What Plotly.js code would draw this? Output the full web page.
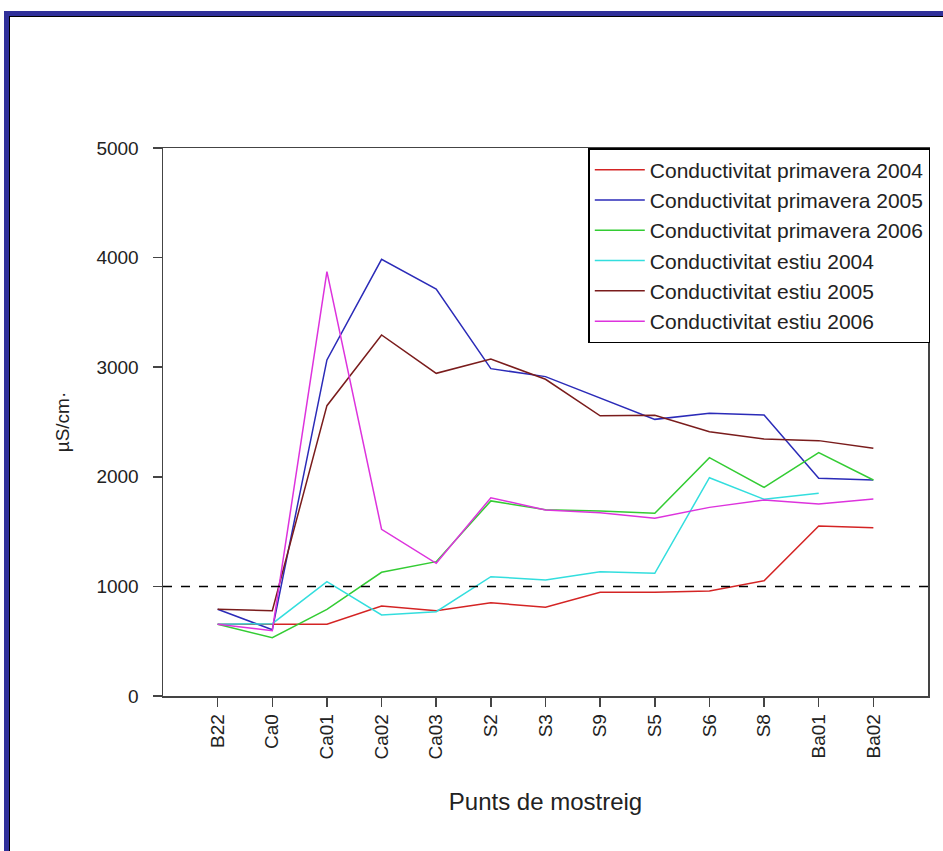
<!DOCTYPE html>
<html>
<head>
<meta charset="utf-8">
<script src="https://cdn.plot.ly/plotly-3.0.1.min.js"></script>
<style>
  html, body { margin: 0; padding: 0; background: #ffffff; }
  #frame { position: absolute; left: 4px; top: 11px; width: 1000px; height: 900px;
           border-left: 5px solid #30309a; border-top: 5px solid #30309a; }
  #inner { position: absolute; left: 0; top: 0; width: 100%; height: 100%;
           border-left: 1px solid #000; border-top: 1px solid #000; }
  #chart { position: absolute; left: 0; top: 0; width: 943px; height: 851px; }
</style>
</head>
<body>
<div id="frame"><div id="inner"></div></div>
<div id="chart"></div>
<script>
const categories = ["B22", "Ca0", "Ca01", "Ca02", "Ca03", "S2", "S3", "S9", "S5", "S6", "S8", "Ba01", "Ba02"];

const primavera2004 = [654, 654, 654, 821, 778, 851, 809, 946, 946, 958, 1052, 1551, 1536];
const primavera2005 = [791, 605, 3066, 3984, 3713, 2987, 2914, 2716, 2524, 2579, 2564, 1986, 1971];
const primavera2006 = [654, 532, 791, 1129, 1226, 1780, 1700, 1688, 1667, 2175, 1904, 2220, 1971];
const estiu2004     = [654, 660, 1043, 739, 769, 1089, 1058, 1134, 1119, 1992, 1795, 1849, null];
const estiu2005     = [791, 778, 2649, 3294, 2944, 3075, 2890, 2556, 2562, 2412, 2345, 2330, 2260];
const estiu2006     = [654, 596, 3872, 1521, 1211, 1809, 1697, 1673, 1621, 1721, 1788, 1752, 1797];

const seriesNames = [
  "Conductivitat primavera 2004",
  "Conductivitat primavera 2005",
  "Conductivitat primavera 2006",
  "Conductivitat estiu 2004",
  "Conductivitat estiu 2005",
  "Conductivitat estiu 2006"
];
const seriesValues = [primavera2004, primavera2005, primavera2006, estiu2004, estiu2005, estiu2006];
const seriesColors = ["#d42424", "#2b2bb8", "#33cc33", "#33dede", "#7a1c1c", "#dd33dd"];

const referenceLevel = [1000];
const yTicks = [0, 1000, 2000, 3000, 4000, 5000];

const traces = seriesValues.map((vals, i) => ({
  type: "scatter",
  mode: "lines",
  x: categories,
  y: vals,
  name: seriesNames[i],
  line: { color: seriesColors[i], width: 1.5 },
  connectgaps: false
}));

const font = "'Liberation Sans', Arial, sans-serif";

const layout = {
  width: 943,
  height: 851,
  paper_bgcolor: "rgba(0,0,0,0)",
  plot_bgcolor: "#ffffff",
  margin: { l: 163, r: 15, t: 148, b: 155 },
  showlegend: true,
  font: { family: font, color: "#222222", size: 18 },
  xaxis: {
    type: "category",
    categoryorder: "array",
    categoryarray: categories,
    range: [-1, 13],
    tickangle: -90,
    ticks: "outside",
    ticklen: 9,
    tickwidth: 1.5,
    tickcolor: "#444444",
    showline: true,
    linecolor: "#444444",
    linewidth: 1.5,
    mirror: true,
    showgrid: false,
    zeroline: false,
    tickfont: { family: font, size: 19, color: "#222222" },
    title: { text: "Punts de mostreig", font: { family: font, size: 24, color: "#222222" }, standoff: 34 }
  },
  yaxis: {
    range: [0, 5000],
    tickvals: yTicks,
    ticks: "outside",
    ticklen: 9,
    tickwidth: 1.5,
    tickcolor: "#444444",
    ticklabelstandoff: 10,
    showline: true,
    linecolor: "#444444",
    linewidth: 1.5,
    mirror: true,
    showgrid: false,
    zeroline: false,
    tickfont: { family: font, size: 19, color: "#222222" },
    title: { text: "µS/cm·", font: { family: font, size: 19, color: "#222222" }, standoff: 22 }
  },
  legend: {
    x: 1.003, xanchor: "right", xref: "paper",
    y: 1, yanchor: "top", yref: "paper",
    bgcolor: "#ffffff",
    bordercolor: "#000000",
    borderwidth: 1.5,
    font: { family: font, size: 21, color: "#222222" },
    tracegroupgap: 0,
    itemwidth: 50
  },
  shapes: referenceLevel.map(v => ({
    type: "line", xref: "paper", yref: "y",
    x0: 0, x1: 1, y0: v, y1: v,
    line: { color: "#000000", width: 1.5, dash: "dash" },
    layer: "above"
  }))
};

Plotly.newPlot("chart", traces, layout, { displayModeBar: false, staticPlot: true });
</script>
</body>
</html>
